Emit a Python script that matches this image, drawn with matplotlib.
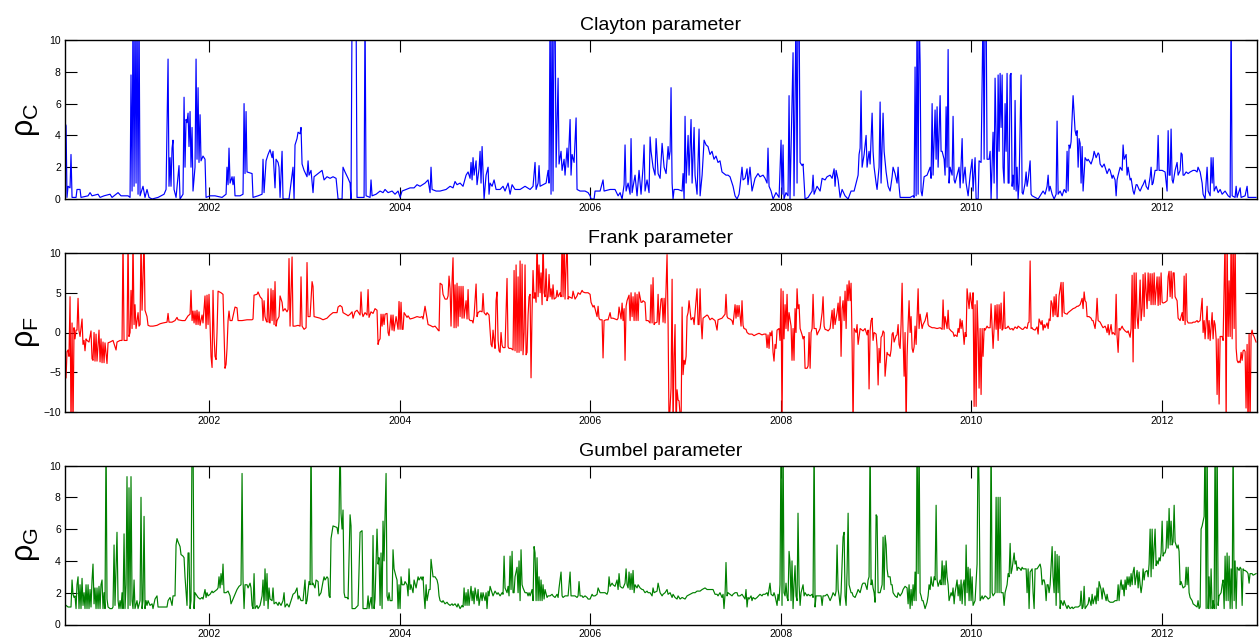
import matplotlib
matplotlib.use("Agg")
import matplotlib.pyplot as plt

plt.rcParams['font.family'] = ['Liberation Sans', 'DejaVu Sans']
plt.rcParams['mathtext.fontset'] = 'custom'
plt.rcParams['mathtext.rm'] = 'Liberation Sans'
plt.rcParams['mathtext.it'] = 'Liberation Sans:italic'
plt.rcParams['mathtext.bf'] = 'Liberation Sans:bold'

# (decimal year, parameter value); values above/below the axis limits are clipped by the axes
clayton = [
(2000.485,4.8),(2000.496,4.6),(2000.506,0.1),(2000.517,0.8),(2000.538,0.7),(2000.548,2.8),(2000.559,0.1),(2000.601,0.1),(2000.611,0.6),(2000.643,0.6),(2000.653,0.1),(2000.727,0.2),(2000.748,0.4),(2000.769,0.2),(2000.832,0.3),(2000.853,0.1),(2000.895,0.2),(2000.958,0.3),(2000.979,0.1),(2001.042,0.4),(2001.073,0.2),(2001.147,0.2),(2001.168,0.1),(2001.178,7.8),(2001.189,0.5),(2001.199,12),(2001.210,0.8),(2001.220,12),(2001.231,1.0),(2001.241,12),(2001.252,0.3),(2001.262,12),(2001.273,0.2),(2001.304,0.8),(2001.325,0.1),(2001.346,0.6),(2001.367,0.1),(2001.399,0.0),(2001.462,0.1),(2001.525,0.3),(2001.546,0.6),(2001.567,8.8),(2001.577,0.8),(2001.588,2.6),(2001.598,0.8),(2001.609,3.2),(2001.619,3.7),(2001.630,0.6),(2001.651,0.1),(2001.682,2.1),(2001.693,0.0),(2001.724,0.3),(2001.735,6.4),(2001.745,2.0),(2001.756,5.0),(2001.766,4.8),(2001.777,5.4),(2001.787,3.3),(2001.798,5.5),(2001.808,2.0),(2001.819,4.5),(2001.829,0.5),(2001.850,2.0),(2001.861,8.8),(2001.871,2.5),(2001.882,7.0),(2001.892,2.3),(2001.903,5.3),(2001.913,2.4),(2001.934,2.7),(2001.955,2.5),(2001.966,0.1),(2002.008,0.2),(2002.060,0.2),(2002.134,0.1),(2002.176,0.3),(2002.186,2.0),(2002.197,0.9),(2002.207,3.2),(2002.218,1.0),(2002.239,1.4),(2002.249,0.9),(2002.260,1.4),(2002.270,0.2),(2002.323,0.2),(2002.354,0.3),(2002.365,6.0),(2002.375,1.6),(2002.386,5.5),(2002.396,1.7),(2002.449,1.6),(2002.459,0.1),(2002.512,0.2),(2002.554,0.3),(2002.564,2.5),(2002.575,0.4),(2002.596,2.4),(2002.617,2.8),(2002.638,3.1),(2002.659,2.6),(2002.669,3.0),(2002.690,0.7),(2002.701,2.5),(2002.722,2.3),(2002.732,2.0),(2002.743,0.1),(2002.764,3.0),(2002.774,0.0),(2002.837,0.0),(2002.879,2.0),(2002.890,0.0),(2002.900,3.4),(2002.921,3.8),(2002.932,4.2),(2002.953,4.1),(2002.963,4.5),(2002.974,2.2),(2002.995,1.8),(2003.026,1.4),(2003.037,2.4),(2003.047,1.5),(2003.068,1.8),(2003.089,0.4),(2003.100,1.4),(2003.142,1.6),(2003.184,1.8),(2003.205,1.2),(2003.236,1.4),(2003.268,1.3),(2003.299,1.4),(2003.331,1.3),(2003.352,0.0),(2003.394,0.0),(2003.404,2.0),(2003.425,1.7),(2003.457,1.3),(2003.478,1.0),(2003.488,0.0),(2003.499,12),(2003.541,12),(2003.551,0.1),(2003.625,0.1),(2003.635,12),(2003.646,0.2),(2003.688,0.1),(2003.698,1.2),(2003.709,0.2),(2003.751,0.3),(2003.793,0.5),(2003.824,0.4),(2003.845,0.6),(2003.877,0.4),(2003.919,0.5),(2003.950,0.3),(2003.982,0.5),(2004.003,0.1),(2004.024,0.5),(2004.066,0.6),(2004.108,0.7),(2004.150,0.7),(2004.181,0.9),(2004.213,0.8),(2004.265,1.0),(2004.297,1.2),(2004.318,0.4),(2004.328,2.0),(2004.339,0.6),(2004.381,0.5),(2004.423,0.5),(2004.486,0.6),(2004.528,0.8),(2004.559,0.7),(2004.580,1.1),(2004.601,0.9),(2004.633,1.0),(2004.664,0.8),(2004.696,1.5),(2004.717,1.7),(2004.738,1.3),(2004.748,2.3),(2004.759,1.2),(2004.769,2.6),(2004.780,1.5),(2004.801,2.4),(2004.811,0.9),(2004.832,1.9),(2004.843,3.0),(2004.853,1.0),(2004.864,3.3),(2004.874,1.8),(2004.885,0.0),(2004.906,1.5),(2004.927,2.0),(2004.937,0.3),(2004.948,1.0),(2004.969,0.8),(2004.990,1.2),(2005.011,0.6),(2005.053,0.6),(2005.084,0.8),(2005.105,0.5),(2005.137,1.0),(2005.158,0.3),(2005.179,0.9),(2005.210,0.6),(2005.263,0.6),(2005.315,0.8),(2005.368,0.6),(2005.399,0.8),(2005.420,2.3),(2005.431,0.6),(2005.452,1.0),(2005.462,2.1),(2005.473,0.8),(2005.504,0.9),(2005.536,1.0),(2005.557,1.8),(2005.567,1.0),(2005.578,12),(2005.588,0.3),(2005.599,12),(2005.609,0.5),(2005.620,12),(2005.630,12),(2005.641,2.0),(2005.662,7.6),(2005.672,2.2),(2005.693,3.0),(2005.704,1.8),(2005.725,2.5),(2005.735,1.5),(2005.756,3.2),(2005.767,2.0),(2005.788,5.0),(2005.798,1.5),(2005.809,2.8),(2005.830,2.3),(2005.851,5.1),(2005.861,0.6),(2005.893,0.5),(2005.945,0.5),(2005.977,0.4),(2005.998,0.2),(2006.008,0.0),(2006.040,0.0),(2006.050,0.5),(2006.103,0.5),(2006.134,1.2),(2006.145,0.5),(2006.208,0.6),(2006.260,0.6),(2006.292,0.2),(2006.313,0.4),(2006.334,0.0),(2006.355,0.9),(2006.365,3.4),(2006.376,0.5),(2006.397,1.0),(2006.418,0.3),(2006.428,3.8),(2006.439,0.4),(2006.470,1.5),(2006.491,0.2),(2006.512,1.8),(2006.533,0.3),(2006.554,2.0),(2006.565,3.4),(2006.575,0.5),(2006.596,1.2),(2006.617,0.4),(2006.628,3.9),(2006.638,3.0),(2006.659,2.0),(2006.680,1.5),(2006.691,3.8),(2006.712,1.6),(2006.733,1.3),(2006.754,3.5),(2006.775,2.0),(2006.796,1.6),(2006.817,3.3),(2006.827,2.5),(2006.838,3.0),(2006.848,7.0),(2006.859,1.0),(2006.869,0.0),(2006.880,0.6),(2006.922,0.6),(2006.964,0.5),(2006.974,1.6),(2006.985,0.0),(2006.995,5.2),(2007.006,1.0),(2007.027,4.0),(2007.037,1.5),(2007.058,5.0),(2007.069,1.0),(2007.090,4.5),(2007.100,1.5),(2007.121,0.3),(2007.142,4.4),(2007.153,0.2),(2007.174,1.5),(2007.195,3.7),(2007.216,3.4),(2007.236,3.3),(2007.257,2.8),(2007.278,3.0),(2007.299,2.5),(2007.320,2.7),(2007.341,2.3),(2007.362,2.4),(2007.383,1.7),(2007.404,1.6),(2007.425,1.5),(2007.446,1.5),(2007.467,1.4),(2007.499,0.8),(2007.520,0.2),(2007.541,0.0),(2007.562,0.3),(2007.572,0.8),(2007.593,2.0),(2007.604,1.2),(2007.625,1.3),(2007.646,1.9),(2007.656,0.9),(2007.677,2.0),(2007.698,0.5),(2007.730,1.3),(2007.761,1.6),(2007.782,1.4),(2007.814,1.5),(2007.835,1.3),(2007.856,1.0),(2007.866,3.2),(2007.877,0.8),(2007.898,0.5),(2007.919,0.0),(2007.950,0.4),(2007.982,0.1),(2008.003,3.7),(2008.013,0.3),(2008.024,3.4),(2008.034,0.0),(2008.055,0.4),(2008.076,0.2),(2008.087,6.5),(2008.097,0.0),(2008.129,9.2),(2008.139,0.2),(2008.160,12),(2008.171,1.0),(2008.181,12),(2008.192,12),(2008.203,2.3),(2008.224,2.1),(2008.234,2.2),(2008.255,0.0),(2008.287,0.1),(2008.308,0.3),(2008.329,0.5),(2008.339,1.5),(2008.350,0.3),(2008.381,0.8),(2008.413,0.5),(2008.434,1.3),(2008.465,1.2),(2008.486,1.4),(2008.518,1.5),(2008.539,1.3),(2008.560,1.9),(2008.570,0.8),(2008.581,1.8),(2008.602,1.2),(2008.623,0.1),(2008.644,0.6),(2008.675,0.2),(2008.707,0.0),(2008.738,0.5),(2008.770,0.5),(2008.791,1.0),(2008.812,1.5),(2008.822,2.8),(2008.833,3.2),(2008.843,6.8),(2008.854,2.0),(2008.875,2.8),(2008.896,4.0),(2008.906,2.0),(2008.927,3.0),(2008.938,2.2),(2008.959,5.4),(2008.969,3.0),(2008.980,2.0),(2009.001,1.0),(2009.011,0.6),(2009.032,2.0),(2009.043,6.1),(2009.053,1.0),(2009.074,5.4),(2009.085,3.0),(2009.106,1.7),(2009.127,0.8),(2009.148,0.5),(2009.169,1.4),(2009.179,2.0),(2009.200,1.6),(2009.221,1.0),(2009.232,2.0),(2009.242,0.8),(2009.253,0.1),(2009.305,0.1),(2009.358,0.1),(2009.389,0.2),(2009.400,0.1),(2009.410,8.3),(2009.421,0.2),(2009.431,12),(2009.442,0.3),(2009.452,12),(2009.463,8.5),(2009.473,0.5),(2009.484,0.2),(2009.505,1.4),(2009.536,1.5),(2009.568,2.0),(2009.578,1.3),(2009.589,6.0),(2009.599,1.5),(2009.620,5.6),(2009.631,2.5),(2009.641,5.8),(2009.652,2.0),(2009.673,6.5),(2009.683,3.0),(2009.694,3.0),(2009.715,2.5),(2009.725,1.5),(2009.736,5.8),(2009.746,2.0),(2009.757,9.4),(2009.767,1.0),(2009.778,2.0),(2009.799,1.5),(2009.809,5.2),(2009.820,1.2),(2009.830,1.0),(2009.851,1.5),(2009.872,2.0),(2009.883,0.7),(2009.904,3.8),(2009.914,1.0),(2009.935,2.0),(2009.946,1.0),(2009.967,0.2),(2009.988,1.5),(2010.009,2.5),(2010.019,0.5),(2010.040,2.6),(2010.051,0.0),(2010.072,0.0),(2010.082,2.4),(2010.103,2.3),(2010.124,12),(2010.135,2.5),(2010.145,12),(2010.156,12),(2010.166,2.5),(2010.187,2.5),(2010.198,3.0),(2010.208,0.0),(2010.229,4.2),(2010.240,1.0),(2010.250,7.6),(2010.261,4.0),(2010.271,0.0),(2010.282,7.8),(2010.292,3.0),(2010.303,7.9),(2010.313,4.5),(2010.324,7.8),(2010.334,2.0),(2010.345,1.0),(2010.355,6.0),(2010.366,3.0),(2010.376,7.9),(2010.387,1.0),(2010.397,1.0),(2010.408,7.8),(2010.418,7.9),(2010.429,0.8),(2010.439,1.5),(2010.450,0.6),(2010.460,6.2),(2010.471,0.5),(2010.481,2.0),(2010.492,0.0),(2010.502,1.0),(2010.523,7.8),(2010.534,0.4),(2010.544,0.3),(2010.565,1.0),(2010.576,1.7),(2010.586,0.8),(2010.597,1.2),(2010.618,2.4),(2010.628,0.3),(2010.639,0.2),(2010.670,0.1),(2010.702,0.0),(2010.723,0.2),(2010.754,0.5),(2010.775,0.3),(2010.796,0.8),(2010.807,1.5),(2010.817,0.5),(2010.828,0.8),(2010.849,0.3),(2010.870,0.0),(2010.891,0.3),(2010.901,4.9),(2010.912,0.3),(2010.933,0.5),(2010.954,0.2),(2010.975,0.6),(2010.996,0.4),(2011.006,3.0),(2011.017,0.5),(2011.027,3.4),(2011.038,3.2),(2011.048,3.6),(2011.069,6.5),(2011.090,4.3),(2011.101,4.0),(2011.111,4.3),(2011.122,2.0),(2011.132,3.8),(2011.143,3.5),(2011.153,1.0),(2011.164,3.3),(2011.174,0.5),(2011.195,2.6),(2011.216,2.4),(2011.227,2.5),(2011.248,2.3),(2011.258,2.2),(2011.279,2.6),(2011.290,3.0),(2011.311,2.6),(2011.332,2.9),(2011.342,2.8),(2011.353,2.2),(2011.374,2.0),(2011.395,2.2),(2011.405,2.0),(2011.426,1.6),(2011.447,1.9),(2011.458,1.8),(2011.479,1.3),(2011.489,1.5),(2011.510,1.2),(2011.521,0.2),(2011.531,1.2),(2011.542,1.5),(2011.563,2.0),(2011.584,1.8),(2011.594,3.4),(2011.605,2.5),(2011.626,2.8),(2011.636,1.5),(2011.647,2.0),(2011.668,1.2),(2011.678,1.3),(2011.699,0.5),(2011.710,0.3),(2011.731,0.9),(2011.741,0.9),(2011.762,0.6),(2011.773,0.5),(2011.794,0.8),(2011.804,0.9),(2011.825,1.2),(2011.836,0.8),(2011.857,0.6),(2011.878,1.4),(2011.888,2.0),(2011.899,0.9),(2011.909,1.0),(2011.930,1.8),(2011.951,1.8),(2011.962,4.0),(2011.972,1.8),(2012.004,1.8),(2012.035,1.7),(2012.056,0.5),(2012.067,4.3),(2012.077,1.5),(2012.088,1.5),(2012.098,4.4),(2012.109,1.2),(2012.119,1.0),(2012.140,1.8),(2012.161,2.3),(2012.172,1.5),(2012.193,1.8),(2012.203,2.9),(2012.214,2.8),(2012.224,1.5),(2012.235,1.5),(2012.256,1.7),(2012.277,1.6),(2012.298,1.7),(2012.329,1.8),(2012.350,1.8),(2012.371,1.7),(2012.381,2.0),(2012.403,1.7),(2012.424,1.0),(2012.434,0.3),(2012.455,0.0),(2012.466,1.0),(2012.476,2.0),(2012.487,0.5),(2012.508,0.2),(2012.518,2.6),(2012.529,1.0),(2012.539,2.6),(2012.550,0.5),(2012.571,0.8),(2012.592,0.4),(2012.613,0.6),(2012.634,0.3),(2012.665,0.5),(2012.697,0.2),(2012.718,0.1),(2012.728,12),(2012.739,0.2),(2012.770,0.1),(2012.781,0.8),(2012.791,0.1),(2012.823,0.7),(2012.833,0.1),(2012.875,0.2),(2012.896,0.8),(2012.906,0.1),(2012.948,0.1),(2012.990,0.1),
]

frank = [
(2000.496,-5.7),(2000.506,-2.4),(2000.517,-2.2),(2000.527,-3.0),(2000.538,4.5),(2000.548,-12),(2000.559,1.2),(2000.569,-12),(2000.580,0.6),(2000.590,-0.8),(2000.601,0.3),(2000.611,0.3),(2000.622,4.3),(2000.632,0.2),(2000.643,-0.5),(2000.664,1.7),(2000.674,-1.5),(2000.685,-1.0),(2000.695,-2.3),(2000.706,-0.8),(2000.716,-1.0),(2000.737,-1.2),(2000.758,0.2),(2000.769,-3.3),(2000.779,-3.5),(2000.790,0.0),(2000.800,-3.6),(2000.811,-0.2),(2000.821,-3.6),(2000.842,0.3),(2000.853,-3.7),(2000.863,-0.8),(2000.874,-3.8),(2000.884,-1.2),(2000.895,-3.8),(2000.905,-1.3),(2000.926,-3.9),(2000.937,-1.3),(2000.958,-1.2),(2000.989,-1.0),(2001.021,-2.2),(2001.031,-1.2),(2001.063,-1.0),(2001.084,-1.0),(2001.094,12),(2001.105,-1.0),(2001.136,-1.0),(2001.147,12),(2001.157,-0.5),(2001.168,0.0),(2001.178,5.3),(2001.189,0.5),(2001.199,12),(2001.210,1.0),(2001.220,3.5),(2001.231,0.5),(2001.241,1.5),(2001.252,2.5),(2001.262,0.8),(2001.273,1.0),(2001.283,12),(2001.294,2.8),(2001.304,6.9),(2001.315,12),(2001.325,2.8),(2001.346,2.0),(2001.357,0.9),(2001.378,0.8),(2001.409,0.8),(2001.451,0.9),(2001.483,1.1),(2001.514,1.2),(2001.556,1.3),(2001.567,2.4),(2001.577,1.3),(2001.609,1.3),(2001.640,1.5),(2001.661,1.9),(2001.672,1.6),(2001.714,1.5),(2001.745,1.5),(2001.777,2.1),(2001.798,2.3),(2001.808,5.3),(2001.819,1.5),(2001.829,2.7),(2001.840,1.2),(2001.850,2.7),(2001.861,1.0),(2001.871,2.8),(2001.882,1.0),(2001.892,2.6),(2001.903,0.9),(2001.924,2.2),(2001.934,1.2),(2001.955,4.6),(2001.966,0.5),(2001.976,4.7),(2001.987,1.0),(2001.997,4.8),(2002.008,1.0),(2002.018,-3.0),(2002.029,-4.4),(2002.039,5.3),(2002.050,-0.5),(2002.060,-3.0),(2002.071,-3.4),(2002.081,0.0),(2002.092,5.2),(2002.123,5.0),(2002.144,4.8),(2002.155,-0.3),(2002.165,-4.5),(2002.176,-4.0),(2002.186,-2.0),(2002.197,1.5),(2002.207,2.7),(2002.218,1.5),(2002.239,1.5),(2002.270,3.2),(2002.291,3.1),(2002.302,1.5),(2002.344,1.5),(2002.396,1.6),(2002.449,1.6),(2002.459,1.7),(2002.470,4.7),(2002.501,4.8),(2002.512,5.1),(2002.533,4.5),(2002.554,4.2),(2002.564,1.5),(2002.575,4.0),(2002.585,2.0),(2002.596,1.5),(2002.606,1.3),(2002.617,5.5),(2002.627,1.3),(2002.638,1.2),(2002.648,5.5),(2002.659,1.5),(2002.669,5.3),(2002.680,1.0),(2002.690,6.4),(2002.701,0.8),(2002.711,1.5),(2002.732,2.0),(2002.743,4.6),(2002.764,3.8),(2002.774,2.7),(2002.795,3.0),(2002.816,2.6),(2002.827,2.9),(2002.837,9.3),(2002.848,0.8),(2002.869,9.5),(2002.879,0.8),(2002.900,0.8),(2002.932,0.9),(2002.953,0.8),(2002.963,7.0),(2002.974,0.8),(2002.984,0.6),(2002.995,0.4),(2003.016,0.6),(2003.026,8.8),(2003.037,2.0),(2003.058,2.0),(2003.079,6.4),(2003.089,5.8),(2003.100,2.0),(2003.131,1.9),(2003.163,1.8),(2003.194,1.6),(2003.236,1.8),(2003.268,2.2),(2003.299,2.5),(2003.341,2.5),(2003.352,3.2),(2003.373,3.4),(2003.394,3.2),(2003.404,2.5),(2003.446,2.2),(2003.457,2.1),(2003.478,2.3),(2003.499,2.6),(2003.509,1.8),(2003.530,2.6),(2003.551,2.8),(2003.583,2.2),(2003.593,5.1),(2003.604,2.5),(2003.614,2.0),(2003.635,2.5),(2003.656,2.2),(2003.667,5.4),(2003.677,1.9),(2003.698,2.6),(2003.719,2.4),(2003.740,3.0),(2003.761,2.8),(2003.772,-1.5),(2003.782,-1.0),(2003.793,-0.8),(2003.803,2.3),(2003.814,0.8),(2003.824,2.3),(2003.835,1.0),(2003.845,2.3),(2003.866,2.4),(2003.877,0.0),(2003.887,-0.4),(2003.908,2.2),(2003.919,0.3),(2003.929,2.2),(2003.940,0.2),(2003.961,2.0),(2003.982,0.4),(2003.992,3.9),(2004.003,0.4),(2004.013,3.8),(2004.024,0.4),(2004.034,0.4),(2004.045,2.5),(2004.076,1.9),(2004.087,2.1),(2004.108,1.7),(2004.139,1.8),(2004.181,2.0),(2004.213,1.9),(2004.234,2.0),(2004.244,1.7),(2004.265,3.3),(2004.286,1.8),(2004.297,1.0),(2004.318,0.9),(2004.349,0.7),(2004.370,0.8),(2004.391,0.5),(2004.402,0.3),(2004.412,0.2),(2004.423,6.2),(2004.444,6.0),(2004.454,4.8),(2004.475,4.2),(2004.496,4.2),(2004.507,4.6),(2004.517,7.1),(2004.528,5.5),(2004.538,0.8),(2004.549,6.5),(2004.559,9.4),(2004.570,0.6),(2004.580,6.0),(2004.591,0.6),(2004.601,6.2),(2004.612,0.8),(2004.622,5.8),(2004.633,2.0),(2004.643,5.8),(2004.654,1.8),(2004.664,5.8),(2004.675,1.8),(2004.696,4.0),(2004.706,1.7),(2004.717,5.4),(2004.727,1.7),(2004.738,1.5),(2004.759,1.5),(2004.769,1.2),(2004.780,2.1),(2004.801,6.1),(2004.811,2.0),(2004.822,2.5),(2004.843,2.7),(2004.864,2.6),(2004.874,4.9),(2004.885,2.5),(2004.906,2.2),(2004.916,2.5),(2004.937,2.2),(2004.958,-1.5),(2004.969,-1.8),(2004.979,0.3),(2004.990,-1.0),(2005.000,-2.0),(2005.011,4.0),(2005.021,5.1),(2005.032,-1.0),(2005.042,-2.3),(2005.053,-2.5),(2005.063,0.0),(2005.074,-1.6),(2005.084,-1.9),(2005.105,-1.9),(2005.126,6.8),(2005.137,-1.8),(2005.147,-2.0),(2005.168,-2.0),(2005.189,-2.2),(2005.200,7.8),(2005.210,-2.3),(2005.221,8.5),(2005.231,-2.5),(2005.242,7.0),(2005.252,-2.5),(2005.263,9.0),(2005.273,-2.3),(2005.284,8.6),(2005.294,-2.8),(2005.305,0.0),(2005.315,8.5),(2005.326,-2.8),(2005.336,-2.5),(2005.347,2.2),(2005.357,4.5),(2005.368,4.8),(2005.378,-5.7),(2005.389,2.8),(2005.399,7.8),(2005.410,4.3),(2005.420,5.0),(2005.431,3.8),(2005.441,12),(2005.452,4.5),(2005.462,8.5),(2005.473,5.0),(2005.483,7.5),(2005.494,3.5),(2005.504,12),(2005.515,5.0),(2005.525,4.5),(2005.536,8.0),(2005.546,4.0),(2005.557,4.5),(2005.567,7.3),(2005.578,4.5),(2005.588,5.5),(2005.599,4.2),(2005.609,6.0),(2005.620,4.2),(2005.641,4.4),(2005.651,5.3),(2005.662,4.5),(2005.683,5.0),(2005.693,4.5),(2005.704,12),(2005.714,4.5),(2005.725,12),(2005.735,4.2),(2005.756,12),(2005.767,4.2),(2005.777,4.5),(2005.809,4.3),(2005.819,5.2),(2005.840,4.2),(2005.861,4.6),(2005.872,5.0),(2005.893,4.8),(2005.914,5.3),(2005.924,5.1),(2005.945,5.0),(2005.977,5.0),(2005.998,4.8),(2006.008,3.8),(2006.029,3.2),(2006.040,3.4),(2006.050,3.0),(2006.071,2.0),(2006.082,3.3),(2006.092,1.8),(2006.103,1.6),(2006.124,1.6),(2006.134,-3.2),(2006.145,1.5),(2006.166,1.6),(2006.187,1.6),(2006.208,2.5),(2006.218,1.8),(2006.239,1.8),(2006.281,1.6),(2006.292,1.8),(2006.302,3.2),(2006.323,1.7),(2006.334,3.7),(2006.344,1.5),(2006.355,3.0),(2006.365,-3.5),(2006.376,3.3),(2006.386,4.0),(2006.407,4.7),(2006.418,1.5),(2006.428,5.0),(2006.439,2.0),(2006.449,4.5),(2006.460,1.5),(2006.470,5.0),(2006.481,1.5),(2006.491,4.8),(2006.502,1.5),(2006.512,5.1),(2006.533,3.8),(2006.544,3.8),(2006.554,4.0),(2006.575,3.8),(2006.586,1.5),(2006.607,1.5),(2006.628,1.2),(2006.638,6.0),(2006.649,1.2),(2006.659,6.9),(2006.670,1.0),(2006.680,1.2),(2006.701,1.3),(2006.712,4.8),(2006.722,1.0),(2006.743,4.2),(2006.754,4.3),(2006.764,1.3),(2006.775,4.3),(2006.785,1.2),(2006.806,9.8),(2006.817,1.0),(2006.827,-12),(2006.848,-7.0),(2006.859,6.7),(2006.869,-12),(2006.880,-3.0),(2006.890,1.0),(2006.901,-12),(2006.911,-7.2),(2006.922,-8.5),(2006.932,-8.6),(2006.953,-12),(2006.964,3.2),(2006.974,-5.3),(2006.985,-3.5),(2006.995,-4.0),(2007.006,-3.0),(2007.016,2.0),(2007.027,2.5),(2007.037,4.0),(2007.058,1.6),(2007.079,1.9),(2007.090,1.0),(2007.111,4.0),(2007.121,5.5),(2007.132,1.0),(2007.142,1.0),(2007.153,5.5),(2007.163,1.5),(2007.174,-0.8),(2007.184,1.8),(2007.205,2.0),(2007.226,2.2),(2007.236,2.1),(2007.257,1.6),(2007.278,1.8),(2007.289,1.7),(2007.310,1.5),(2007.331,0.3),(2007.341,1.6),(2007.362,1.7),(2007.383,1.8),(2007.415,2.3),(2007.425,4.8),(2007.436,2.0),(2007.446,1.8),(2007.467,1.7),(2007.488,1.5),(2007.499,1.0),(2007.520,3.5),(2007.530,1.8),(2007.541,3.4),(2007.551,2.0),(2007.562,3.4),(2007.583,0.8),(2007.593,4.0),(2007.604,0.9),(2007.614,0.5),(2007.635,0.4),(2007.646,0.0),(2007.667,-0.2),(2007.698,-0.2),(2007.719,-0.4),(2007.751,-0.2),(2007.772,-0.1),(2007.803,-0.3),(2007.824,-0.2),(2007.845,-0.2),(2007.856,-1.9),(2007.866,-0.3),(2007.877,-2.0),(2007.887,0.0),(2007.898,-0.4),(2007.908,0.2),(2007.919,-2.5),(2007.929,-3.6),(2007.940,-1.5),(2007.950,-2.0),(2007.961,0.3),(2007.982,0.5),(2007.992,-1.0),(2008.003,5.5),(2008.013,-12),(2008.024,5.2),(2008.034,-0.8),(2008.045,3.5),(2008.055,0.5),(2008.066,4.8),(2008.076,0.2),(2008.087,2.5),(2008.108,0.8),(2008.118,-3.5),(2008.129,0.5),(2008.139,-3.5),(2008.150,3.0),(2008.160,0.0),(2008.171,5.5),(2008.181,3.0),(2008.192,3.5),(2008.203,0.5),(2008.224,-0.3),(2008.234,-0.8),(2008.245,-0.5),(2008.255,-4.5),(2008.276,-4.5),(2008.287,-4.2),(2008.297,0.0),(2008.308,-4.5),(2008.318,0.0),(2008.329,0.5),(2008.339,4.8),(2008.350,0.5),(2008.371,0.5),(2008.381,-0.3),(2008.392,0.0),(2008.413,0.5),(2008.434,2.5),(2008.444,4.5),(2008.455,0.8),(2008.465,0.4),(2008.486,0.3),(2008.497,0.2),(2008.518,0.5),(2008.539,2.8),(2008.549,0.5),(2008.560,3.0),(2008.570,1.0),(2008.591,2.5),(2008.602,3.7),(2008.612,1.5),(2008.623,4.5),(2008.633,-3.0),(2008.644,3.0),(2008.654,4.0),(2008.665,1.5),(2008.675,5.2),(2008.686,0.5),(2008.696,6.0),(2008.707,4.0),(2008.717,6.5),(2008.728,4.0),(2008.738,6.2),(2008.749,-1.5),(2008.759,-12),(2008.770,0.5),(2008.791,0.0),(2008.801,1.0),(2008.812,-1.5),(2008.822,-0.5),(2008.833,0.5),(2008.854,0.3),(2008.864,0.2),(2008.885,0.5),(2008.906,-0.3),(2008.917,0.3),(2008.927,-7.1),(2008.938,0.2),(2008.948,1.5),(2008.959,1.8),(2008.969,-1.0),(2008.980,0.0),(2009.001,-0.2),(2009.011,-1.8),(2009.022,-6.6),(2009.032,-2.0),(2009.043,-3.8),(2009.053,-0.6),(2009.064,-0.4),(2009.074,0.2),(2009.085,0.0),(2009.095,-5.5),(2009.116,-2.5),(2009.127,-2.8),(2009.137,-2.8),(2009.148,-3.0),(2009.158,-2.2),(2009.169,-0.2),(2009.179,0.0),(2009.190,-1.2),(2009.211,-0.4),(2009.221,-0.3),(2009.232,1.0),(2009.242,-1.5),(2009.253,-2.0),(2009.263,1.0),(2009.274,6.2),(2009.284,-0.5),(2009.295,-5.5),(2009.305,0.0),(2009.316,-12),(2009.326,-3.0),(2009.337,1.0),(2009.347,4.0),(2009.358,0.0),(2009.368,2.0),(2009.379,-2.0),(2009.389,-2.5),(2009.400,-1.8),(2009.410,0.8),(2009.421,-1.5),(2009.431,2.0),(2009.442,5.5),(2009.452,0.5),(2009.463,2.3),(2009.484,0.5),(2009.494,1.0),(2009.515,1.5),(2009.536,2.5),(2009.547,1.0),(2009.557,0.8),(2009.589,0.6),(2009.610,0.6),(2009.641,0.5),(2009.673,0.6),(2009.694,0.4),(2009.704,4.1),(2009.715,0.4),(2009.725,2.0),(2009.746,0.5),(2009.757,2.8),(2009.767,0.5),(2009.788,0.2),(2009.809,0.0),(2009.820,-0.5),(2009.830,-0.3),(2009.851,-0.5),(2009.862,0.5),(2009.872,0.0),(2009.883,1.7),(2009.893,0.5),(2009.904,1.5),(2009.914,0.3),(2009.925,-1.5),(2009.935,0.0),(2009.946,-0.5),(2009.956,5.5),(2009.977,3.0),(2009.988,5.0),(2010.009,3.0),(2010.019,5.0),(2010.030,-9.3),(2010.040,3.5),(2010.051,-9.3),(2010.061,4.0),(2010.072,0.0),(2010.082,-7.0),(2010.093,0.5),(2010.103,-7.8),(2010.114,0.5),(2010.124,-3.0),(2010.135,0.5),(2010.145,0.3),(2010.166,0.8),(2010.177,0.6),(2010.198,0.6),(2010.208,3.6),(2010.219,0.5),(2010.229,-2.0),(2010.240,0.6),(2010.250,3.4),(2010.261,0.4),(2010.271,3.5),(2010.282,-1.0),(2010.292,3.5),(2010.303,0.5),(2010.313,3.7),(2010.324,0.3),(2010.334,0.5),(2010.345,5.1),(2010.355,0.5),(2010.376,0.6),(2010.387,0.8),(2010.408,0.4),(2010.429,0.5),(2010.439,0.3),(2010.460,0.7),(2010.481,0.5),(2010.492,0.8),(2010.513,0.6),(2010.534,0.4),(2010.544,0.4),(2010.565,0.7),(2010.586,0.5),(2010.597,1.2),(2010.607,1.3),(2010.618,9.0),(2010.628,0.5),(2010.639,0.6),(2010.649,0.4),(2010.670,0.3),(2010.691,0.7),(2010.702,-0.2),(2010.712,1.7),(2010.733,1.0),(2010.744,1.5),(2010.754,0.3),(2010.765,1.0),(2010.775,0.6),(2010.796,1.2),(2010.807,0.5),(2010.817,1.7),(2010.828,1.5),(2010.838,4.0),(2010.849,3.6),(2010.859,2.0),(2010.870,4.5),(2010.880,2.2),(2010.891,4.8),(2010.901,2.0),(2010.912,2.0),(2010.922,4.6),(2010.943,6.3),(2010.954,2.0),(2010.964,6.3),(2010.975,2.5),(2010.985,2.4),(2011.006,2.3),(2011.017,2.5),(2011.038,2.7),(2011.059,2.9),(2011.069,3.0),(2011.090,3.1),(2011.111,3.3),(2011.122,3.3),(2011.143,3.5),(2011.164,4.3),(2011.174,3.0),(2011.185,5.1),(2011.195,4.0),(2011.206,3.8),(2011.216,2.0),(2011.237,2.0),(2011.258,1.8),(2011.269,1.5),(2011.279,1.5),(2011.300,0.5),(2011.311,1.8),(2011.321,4.3),(2011.332,1.5),(2011.353,1.3),(2011.374,0.8),(2011.384,0.6),(2011.405,0.8),(2011.416,0.5),(2011.426,0.0),(2011.437,1.0),(2011.447,-0.3),(2011.468,1.0),(2011.479,-0.2),(2011.489,0.0),(2011.510,-0.3),(2011.521,4.8),(2011.531,-0.5),(2011.542,-2.5),(2011.552,0.5),(2011.563,0.3),(2011.584,0.8),(2011.594,0.5),(2011.615,0.2),(2011.636,0.0),(2011.647,0.2),(2011.668,-0.6),(2011.678,0.5),(2011.689,7.2),(2011.699,-3.7),(2011.710,7.5),(2011.720,0.5),(2011.731,7.5),(2011.741,2.0),(2011.752,0.5),(2011.762,3.0),(2011.773,6.6),(2011.783,1.5),(2011.794,3.0),(2011.804,7.3),(2011.815,2.0),(2011.825,7.5),(2011.846,3.0),(2011.857,7.5),(2011.867,4.0),(2011.878,7.4),(2011.888,3.5),(2011.899,7.4),(2011.909,3.5),(2011.920,7.5),(2011.930,3.5),(2011.951,7.0),(2011.962,3.4),(2011.972,7.0),(2011.983,3.5),(2011.993,7.5),(2012.004,3.8),(2012.014,3.7),(2012.035,3.8),(2012.056,4.0),(2012.067,7.0),(2012.077,7.7),(2012.088,4.5),(2012.098,7.7),(2012.109,4.3),(2012.119,7.5),(2012.130,7.5),(2012.140,4.5),(2012.161,4.0),(2012.172,1.8),(2012.193,1.5),(2012.214,2.5),(2012.224,1.5),(2012.235,7.1),(2012.245,1.0),(2012.256,7.4),(2012.266,1.5),(2012.277,1.2),(2012.298,1.2),(2012.319,1.2),(2012.329,1.3),(2012.350,1.3),(2012.371,1.5),(2012.381,1.3),(2012.403,1.5),(2012.424,4.3),(2012.434,0.0),(2012.445,1.5),(2012.455,-0.8),(2012.476,3.3),(2012.487,-0.8),(2012.497,1.5),(2012.508,-1.0),(2012.529,2.5),(2012.539,-0.8),(2012.550,1.5),(2012.560,1.0),(2012.571,-0.8),(2012.581,-7.8),(2012.592,-0.8),(2012.602,-9.0),(2012.613,-0.5),(2012.634,-0.5),(2012.644,-1.0),(2012.655,5.8),(2012.665,12),(2012.676,-12),(2012.686,12),(2012.697,-0.5),(2012.707,6.5),(2012.718,-0.5),(2012.728,12),(2012.739,-0.8),(2012.749,12),(2012.760,0.5),(2012.770,12),(2012.781,-2.0),(2012.791,-3.5),(2012.802,-3.8),(2012.812,-3.6),(2012.823,-3.8),(2012.833,-2.5),(2012.844,-3.5),(2012.854,-2.3),(2012.865,-2.2),(2012.875,-2.4),(2012.885,-9.5),(2012.896,-1.5),(2012.906,-12),(2012.917,-0.2),(2012.927,-12),(2012.938,-0.3),(2012.948,0.3),(2012.959,-0.3),(2012.969,-0.5),(2012.990,-1.2),
]

gumbel = [
(2000.496,1.2),(2000.517,1.1),(2000.548,1.1),(2000.559,2.8),(2000.569,1.9),(2000.580,1.7),(2000.590,1.8),(2000.601,1.0),(2000.611,2.5),(2000.622,3.0),(2000.632,1.0),(2000.643,2.5),(2000.653,1.0),(2000.664,2.9),(2000.674,1.2),(2000.685,2.0),(2000.695,1.0),(2000.706,2.5),(2000.716,1.0),(2000.727,2.5),(2000.737,1.0),(2000.748,2.2),(2000.758,1.1),(2000.769,2.8),(2000.779,3.8),(2000.790,1.3),(2000.800,2.3),(2000.811,1.0),(2000.821,2.3),(2000.832,1.0),(2000.842,2.4),(2000.853,1.0),(2000.863,2.5),(2000.874,2.8),(2000.884,1.0),(2000.895,2.0),(2000.905,1.0),(2000.916,12),(2000.926,1.6),(2000.937,1.1),(2000.958,1.0),(2000.979,1.0),(2000.989,1.1),(2001.000,5.0),(2001.010,1.2),(2001.031,5.8),(2001.042,1.5),(2001.052,1.0),(2001.063,1.5),(2001.073,1.0),(2001.084,2.0),(2001.094,1.0),(2001.105,5.7),(2001.115,1.0),(2001.126,2.5),(2001.136,9.3),(2001.147,1.0),(2001.157,8.6),(2001.168,1.2),(2001.178,9.3),(2001.189,1.5),(2001.199,1.0),(2001.210,2.8),(2001.220,1.0),(2001.241,1.5),(2001.252,1.0),(2001.273,1.5),(2001.283,8.0),(2001.294,1.0),(2001.304,1.5),(2001.315,6.8),(2001.325,1.0),(2001.336,1.5),(2001.346,1.2),(2001.357,1.5),(2001.378,1.2),(2001.399,1.3),(2001.409,1.0),(2001.430,1.6),(2001.451,1.8),(2001.462,1.1),(2001.483,1.1),(2001.514,1.1),(2001.556,1.1),(2001.567,1.5),(2001.588,1.7),(2001.609,1.2),(2001.619,1.8),(2001.640,1.8),(2001.651,5.0),(2001.661,5.4),(2001.672,5.2),(2001.693,4.9),(2001.703,4.4),(2001.724,4.3),(2001.735,4.2),(2001.745,3.0),(2001.766,1.2),(2001.777,4.5),(2001.787,4.5),(2001.798,1.0),(2001.808,1.5),(2001.819,12),(2001.829,12),(2001.840,1.0),(2001.850,2.0),(2001.871,1.8),(2001.882,1.7),(2001.903,1.6),(2001.924,1.7),(2001.934,1.6),(2001.955,2.2),(2001.966,1.7),(2001.976,2.0),(2001.987,1.8),(2002.008,1.9),(2002.029,2.1),(2002.039,2.0),(2002.060,2.1),(2002.081,2.2),(2002.092,2.3),(2002.102,3.0),(2002.113,2.3),(2002.123,3.2),(2002.134,2.5),(2002.144,3.8),(2002.155,2.0),(2002.176,2.0),(2002.197,2.1),(2002.218,1.8),(2002.228,1.3),(2002.249,1.6),(2002.270,1.9),(2002.291,2.2),(2002.312,2.4),(2002.333,2.5),(2002.344,9.5),(2002.354,2.8),(2002.365,1.0),(2002.375,2.5),(2002.396,2.5),(2002.407,2.3),(2002.428,2.6),(2002.438,2.3),(2002.449,1.2),(2002.459,1.0),(2002.470,3.2),(2002.480,1.0),(2002.501,1.2),(2002.512,1.0),(2002.533,1.2),(2002.554,1.8),(2002.564,2.8),(2002.575,1.2),(2002.585,3.5),(2002.596,1.5),(2002.606,3.2),(2002.617,1.0),(2002.627,2.3),(2002.638,1.6),(2002.659,1.5),(2002.669,2.3),(2002.680,1.3),(2002.701,1.4),(2002.722,1.2),(2002.732,1.4),(2002.753,1.2),(2002.774,1.5),(2002.785,2.0),(2002.795,1.1),(2002.816,1.3),(2002.837,1.1),(2002.848,1.3),(2002.869,1.7),(2002.879,1.9),(2002.900,2.0),(2002.921,2.3),(2002.932,1.6),(2002.942,1.8),(2002.963,1.5),(2002.984,1.5),(2002.995,2.2),(2003.005,2.8),(2003.016,1.3),(2003.026,1.5),(2003.047,2.7),(2003.058,2.5),(2003.068,12),(2003.079,2.5),(2003.089,2.6),(2003.110,2.3),(2003.121,2.8),(2003.142,2.7),(2003.152,1.8),(2003.173,2.0),(2003.194,2.7),(2003.205,3.0),(2003.215,2.8),(2003.236,3.0),(2003.247,2.9),(2003.257,1.8),(2003.268,1.7),(2003.278,5.4),(2003.299,6.2),(2003.341,6.1),(2003.352,5.7),(2003.362,6.5),(2003.373,12),(2003.383,7.0),(2003.394,6.0),(2003.404,7.2),(2003.415,2.0),(2003.425,1.7),(2003.446,1.7),(2003.457,1.6),(2003.478,6.9),(2003.488,6.2),(2003.499,1.0),(2003.509,1.0),(2003.530,1.0),(2003.562,1.2),(2003.583,5.8),(2003.604,5.9),(2003.614,1.0),(2003.635,1.0),(2003.656,1.0),(2003.667,1.8),(2003.677,1.0),(2003.698,1.7),(2003.709,1.0),(2003.719,5.6),(2003.730,1.0),(2003.740,1.6),(2003.761,6.0),(2003.772,3.8),(2003.782,4.2),(2003.793,1.2),(2003.803,4.5),(2003.814,1.0),(2003.824,6.5),(2003.835,4.0),(2003.845,6.8),(2003.856,9.5),(2003.866,1.8),(2003.877,1.5),(2003.887,2.0),(2003.898,1.5),(2003.919,1.5),(2003.929,4.7),(2003.940,3.5),(2003.961,3.0),(2003.971,2.8),(2003.982,1.0),(2003.992,2.5),(2004.003,1.0),(2004.013,3.0),(2004.024,2.5),(2004.045,2.5),(2004.055,2.7),(2004.076,2.5),(2004.087,1.8),(2004.097,3.5),(2004.108,2.2),(2004.118,2.5),(2004.139,2.0),(2004.150,2.8),(2004.171,2.3),(2004.192,3.0),(2004.202,2.8),(2004.223,3.0),(2004.234,2.8),(2004.244,3.0),(2004.255,1.8),(2004.265,1.0),(2004.276,2.5),(2004.286,1.5),(2004.307,2.2),(2004.318,2.2),(2004.328,4.1),(2004.339,3.5),(2004.349,3.0),(2004.370,3.0),(2004.391,2.8),(2004.402,2.5),(2004.412,1.8),(2004.423,1.5),(2004.444,1.4),(2004.454,1.5),(2004.475,1.3),(2004.496,1.4),(2004.507,1.3),(2004.528,1.2),(2004.549,1.3),(2004.559,1.2),(2004.580,1.3),(2004.601,1.1),(2004.612,1.3),(2004.633,1.0),(2004.654,1.2),(2004.664,1.1),(2004.675,2.3),(2004.685,1.2),(2004.696,2.0),(2004.706,1.2),(2004.717,2.2),(2004.727,1.2),(2004.748,2.4),(2004.759,1.5),(2004.769,2.1),(2004.780,1.3),(2004.790,2.3),(2004.811,1.5),(2004.822,2.2),(2004.832,1.2),(2004.853,2.0),(2004.864,1.5),(2004.874,2.0),(2004.895,1.5),(2004.906,2.0),(2004.916,1.0),(2004.927,2.1),(2004.937,1.8),(2004.948,2.4),(2004.969,2.0),(2004.979,1.8),(2005.000,2.1),(2005.021,1.9),(2005.032,2.0),(2005.053,1.8),(2005.074,2.0),(2005.084,1.9),(2005.095,4.3),(2005.105,2.3),(2005.126,2.0),(2005.137,2.4),(2005.147,1.8),(2005.158,4.3),(2005.168,2.2),(2005.179,4.6),(2005.189,2.0),(2005.200,2.0),(2005.210,3.0),(2005.231,3.6),(2005.242,2.0),(2005.252,4.0),(2005.263,1.5),(2005.273,4.7),(2005.284,2.5),(2005.294,2.3),(2005.315,2.0),(2005.336,2.0),(2005.347,1.8),(2005.357,2.0),(2005.368,1.8),(2005.389,2.2),(2005.399,1.5),(2005.410,4.9),(2005.420,4.5),(2005.431,1.5),(2005.441,4.2),(2005.452,1.5),(2005.462,3.0),(2005.473,1.5),(2005.483,2.8),(2005.494,1.5),(2005.504,2.5),(2005.515,1.6),(2005.525,2.2),(2005.546,1.7),(2005.557,1.8),(2005.578,1.8),(2005.599,1.9),(2005.609,1.8),(2005.630,1.7),(2005.651,1.9),(2005.662,1.7),(2005.672,2.3),(2005.693,3.3),(2005.704,1.8),(2005.714,1.7),(2005.735,1.8),(2005.756,1.8),(2005.767,1.8),(2005.788,3.3),(2005.798,1.8),(2005.819,1.8),(2005.840,1.8),(2005.861,1.7),(2005.872,1.8),(2005.882,2.7),(2005.893,1.8),(2005.914,1.8),(2005.924,1.7),(2005.945,1.8),(2005.966,1.7),(2005.977,1.6),(2005.998,1.6),(2006.019,1.9),(2006.029,1.8),(2006.050,1.8),(2006.071,1.9),(2006.082,2.3),(2006.103,2.0),(2006.124,2.0),(2006.134,2.0),(2006.155,2.0),(2006.176,1.9),(2006.187,2.1),(2006.197,3.0),(2006.208,2.4),(2006.229,2.6),(2006.239,2.5),(2006.260,2.4),(2006.281,2.8),(2006.292,2.2),(2006.302,3.2),(2006.313,2.4),(2006.334,2.3),(2006.344,2.3),(2006.365,2.6),(2006.376,3.5),(2006.386,2.5),(2006.397,2.3),(2006.407,3.3),(2006.418,2.2),(2006.428,3.2),(2006.439,2.2),(2006.449,3.4),(2006.460,2.0),(2006.470,2.5),(2006.491,2.3),(2006.502,2.5),(2006.523,2.3),(2006.544,2.2),(2006.554,2.2),(2006.575,2.0),(2006.596,2.1),(2006.607,2.0),(2006.628,2.0),(2006.649,1.8),(2006.659,2.3),(2006.670,2.0),(2006.701,2.1),(2006.712,2.6),(2006.733,2.0),(2006.754,1.8),(2006.764,1.9),(2006.785,2.0),(2006.806,2.2),(2006.817,1.9),(2006.838,2.0),(2006.859,1.7),(2006.869,1.9),(2006.890,1.7),(2006.911,1.6),(2006.922,1.8),(2006.943,1.6),(2006.964,1.7),(2006.995,1.6),(2007.016,1.8),(2007.048,1.9),(2007.079,2.0),(2007.100,2.0),(2007.121,2.1),(2007.153,2.1),(2007.174,2.2),(2007.205,2.3),(2007.226,2.2),(2007.257,2.2),(2007.289,2.2),(2007.310,1.9),(2007.331,1.9),(2007.341,1.8),(2007.362,2.0),(2007.383,1.7),(2007.394,1.9),(2007.404,1.0),(2007.415,1.9),(2007.425,3.9),(2007.436,1.8),(2007.446,2.0),(2007.467,1.9),(2007.488,1.8),(2007.499,1.9),(2007.520,2.0),(2007.541,2.0),(2007.551,1.8),(2007.572,1.8),(2007.593,1.9),(2007.604,1.8),(2007.625,1.6),(2007.635,2.2),(2007.646,1.1),(2007.656,1.7),(2007.667,1.6),(2007.688,1.8),(2007.698,1.5),(2007.709,1.7),(2007.730,1.6),(2007.751,1.7),(2007.782,1.9),(2007.803,1.8),(2007.814,1.9),(2007.835,1.9),(2007.856,2.0),(2007.866,1.8),(2007.887,2.6),(2007.898,1.9),(2007.919,1.8),(2007.929,2.0),(2007.940,1.8),(2007.950,1.5),(2007.961,1.2),(2007.971,1.9),(2007.982,1.5),(2007.992,2.5),(2008.003,12),(2008.013,1.2),(2008.024,12),(2008.034,2.0),(2008.045,1.8),(2008.055,2.6),(2008.066,1.7),(2008.076,1.5),(2008.087,4.6),(2008.097,3.9),(2008.108,1.5),(2008.118,4.0),(2008.129,1.0),(2008.139,2.5),(2008.150,3.7),(2008.160,1.8),(2008.171,1.5),(2008.181,7.0),(2008.192,2.5),(2008.203,1.2),(2008.213,2.0),(2008.234,2.5),(2008.245,1.8),(2008.255,2.0),(2008.276,1.8),(2008.287,1.9),(2008.308,1.8),(2008.329,1.9),(2008.339,1.7),(2008.350,12),(2008.360,1.1),(2008.371,1.8),(2008.381,1.8),(2008.402,1.8),(2008.423,1.8),(2008.434,1.2),(2008.444,1.8),(2008.465,1.8),(2008.486,1.9),(2008.497,1.8),(2008.518,1.5),(2008.539,1.8),(2008.549,2.0),(2008.570,1.8),(2008.581,2.1),(2008.591,5.0),(2008.602,2.2),(2008.612,1.8),(2008.623,1.2),(2008.633,2.0),(2008.654,5.5),(2008.665,5.8),(2008.675,1.8),(2008.686,1.2),(2008.696,3.3),(2008.707,7.0),(2008.717,2.5),(2008.738,2.0),(2008.749,2.0),(2008.759,1.8),(2008.780,1.7),(2008.801,2.0),(2008.812,2.2),(2008.833,2.0),(2008.854,2.5),(2008.864,2.6),(2008.885,2.6),(2008.906,2.2),(2008.917,2.8),(2008.927,3.0),(2008.938,12),(2008.948,2.5),(2008.959,2.8),(2008.969,2.3),(2008.980,2.0),(2008.990,1.4),(2009.001,6.9),(2009.011,6.8),(2009.022,2.0),(2009.043,2.0),(2009.064,2.5),(2009.074,5.5),(2009.085,2.2),(2009.095,5.6),(2009.106,5.0),(2009.116,3.5),(2009.127,3.0),(2009.148,3.0),(2009.158,2.5),(2009.169,2.5),(2009.179,2.0),(2009.200,1.8),(2009.221,1.7),(2009.232,2.0),(2009.253,1.8),(2009.274,2.0),(2009.284,2.2),(2009.305,2.4),(2009.326,2.3),(2009.337,1.3),(2009.347,2.5),(2009.358,1.0),(2009.368,2.2),(2009.379,1.2),(2009.389,2.5),(2009.400,1.5),(2009.410,3.3),(2009.421,1.5),(2009.431,12),(2009.442,3.2),(2009.452,12),(2009.463,2.0),(2009.473,1.8),(2009.484,1.5),(2009.494,1.5),(2009.515,1.0),(2009.536,1.4),(2009.547,1.8),(2009.557,2.5),(2009.568,2.2),(2009.578,3.0),(2009.589,2.5),(2009.599,2.4),(2009.610,3.0),(2009.620,2.8),(2009.631,7.5),(2009.641,2.8),(2009.652,2.4),(2009.673,2.8),(2009.683,2.5),(2009.694,4.0),(2009.704,2.5),(2009.715,3.7),(2009.725,2.5),(2009.736,4.0),(2009.746,3.0),(2009.757,2.5),(2009.767,1.5),(2009.788,2.0),(2009.799,1.8),(2009.809,2.3),(2009.820,1.3),(2009.830,2.0),(2009.851,2.8),(2009.862,1.8),(2009.872,2.5),(2009.883,1.5),(2009.893,2.8),(2009.904,1.3),(2009.914,2.5),(2009.925,2.8),(2009.935,1.2),(2009.946,5.0),(2009.956,2.0),(2009.967,3.6),(2009.977,1.5),(2009.988,3.5),(2009.998,1.5),(2010.009,3.0),(2010.019,1.2),(2010.040,1.5),(2010.061,3.8),(2010.072,12),(2010.082,8.7),(2010.093,1.5),(2010.114,1.8),(2010.124,1.6),(2010.145,1.8),(2010.166,1.7),(2010.177,1.6),(2010.198,1.7),(2010.208,12),(2010.219,2.0),(2010.229,1.8),(2010.250,2.0),(2010.261,8.0),(2010.271,2.0),(2010.282,8.0),(2010.292,2.0),(2010.303,8.0),(2010.313,2.0),(2010.334,2.0),(2010.345,1.2),(2010.355,2.0),(2010.376,2.5),(2010.387,3.2),(2010.397,3.0),(2010.408,5.1),(2010.418,3.2),(2010.429,3.5),(2010.439,4.0),(2010.450,4.5),(2010.460,3.8),(2010.471,4.0),(2010.481,3.4),(2010.492,3.6),(2010.513,3.5),(2010.523,3.4),(2010.534,3.6),(2010.544,3.5),(2010.565,3.5),(2010.576,3.5),(2010.586,2.0),(2010.597,3.5),(2010.607,1.0),(2010.618,3.3),(2010.639,3.5),(2010.649,2.0),(2010.660,1.0),(2010.670,3.5),(2010.691,3.5),(2010.702,3.6),(2010.723,3.8),(2010.733,3.5),(2010.744,2.5),(2010.754,2.8),(2010.765,2.8),(2010.775,2.5),(2010.786,1.5),(2010.796,2.5),(2010.807,2.5),(2010.817,2.0),(2010.828,2.5),(2010.849,4.9),(2010.859,3.0),(2010.870,2.0),(2010.880,4.6),(2010.891,1.2),(2010.901,4.4),(2010.912,2.0),(2010.922,4.3),(2010.933,1.0),(2010.943,1.5),(2010.964,1.2),(2010.975,1.5),(2010.985,1.3),(2011.006,1.0),(2011.017,1.2),(2011.038,1.0),(2011.059,1.1),(2011.069,1.0),(2011.090,1.1),(2011.111,1.1),(2011.122,1.1),(2011.143,1.2),(2011.153,2.1),(2011.164,1.0),(2011.174,1.1),(2011.185,2.4),(2011.195,1.0),(2011.216,1.2),(2011.227,1.3),(2011.237,1.7),(2011.258,1.2),(2011.269,1.9),(2011.279,1.3),(2011.300,1.8),(2011.311,1.3),(2011.321,2.3),(2011.332,1.5),(2011.342,2.7),(2011.363,2.2),(2011.374,1.6),(2011.384,2.3),(2011.405,1.8),(2011.416,1.5),(2011.426,1.9),(2011.437,1.5),(2011.458,1.4),(2011.479,1.4),(2011.489,1.4),(2011.510,1.5),(2011.531,1.5),(2011.542,2.5),(2011.552,1.5),(2011.563,2.4),(2011.573,2.8),(2011.584,2.2),(2011.594,2.5),(2011.605,1.8),(2011.615,2.8),(2011.626,2.2),(2011.636,3.0),(2011.647,2.5),(2011.657,3.0),(2011.668,2.4),(2011.678,3.2),(2011.689,2.5),(2011.699,3.3),(2011.710,3.6),(2011.720,2.5),(2011.741,3.4),(2011.752,2.3),(2011.762,3.3),(2011.773,2.5),(2011.783,2.0),(2011.794,2.5),(2011.804,3.5),(2011.815,2.8),(2011.825,3.3),(2011.846,3.4),(2011.857,3.0),(2011.867,3.8),(2011.878,6.0),(2011.888,3.0),(2011.899,6.0),(2011.909,3.5),(2011.930,6.0),(2011.941,3.7),(2011.951,4.0),(2011.962,3.8),(2011.972,4.2),(2011.983,4.0),(2011.993,4.5),(2012.004,6.5),(2012.014,4.3),(2012.025,4.5),(2012.035,4.5),(2012.046,4.8),(2012.056,6.5),(2012.067,4.8),(2012.077,7.3),(2012.088,5.0),(2012.098,6.5),(2012.109,5.0),(2012.119,5.2),(2012.130,7.5),(2012.140,5.2),(2012.151,5.0),(2012.161,4.8),(2012.172,5.0),(2012.182,4.6),(2012.193,2.5),(2012.203,2.7),(2012.214,2.5),(2012.224,2.3),(2012.245,2.4),(2012.256,3.6),(2012.266,2.5),(2012.277,3.6),(2012.287,2.0),(2012.298,1.7),(2012.319,1.5),(2012.329,1.3),(2012.350,1.2),(2012.371,1.1),(2012.381,1.5),(2012.392,1.0),(2012.403,1.1),(2012.413,6.0),(2012.424,6.2),(2012.434,6.5),(2012.445,6.8),(2012.455,12),(2012.466,1.0),(2012.476,12),(2012.487,1.0),(2012.497,3.0),(2012.508,1.0),(2012.518,3.5),(2012.529,1.0),(2012.539,1.5),(2012.550,1.0),(2012.560,12),(2012.571,1.0),(2012.581,12),(2012.592,1.2),(2012.602,1.8),(2012.623,2.0),(2012.634,2.5),(2012.644,2.8),(2012.655,1.0),(2012.665,4.3),(2012.676,1.5),(2012.686,4.5),(2012.697,1.5),(2012.707,4.3),(2012.718,1.0),(2012.728,3.5),(2012.739,1.0),(2012.749,12),(2012.760,1.5),(2012.770,4.0),(2012.781,1.0),(2012.791,3.6),(2012.802,3.5),(2012.812,3.4),(2012.823,3.6),(2012.833,3.5),(2012.844,1.2),(2012.854,3.5),(2012.865,3.4),(2012.875,3.4),(2012.896,3.3),(2012.906,3.2),(2012.917,2.6),(2012.927,3.2),(2012.948,3.2),(2012.959,3.1),(2012.990,3.2),
]

titles = ['Clayton parameter', 'Frank parameter', 'Gumbel parameter']
ylabels = [r'$\mathrm{\rho}_{\mathrm{C}}$', r'$\mathrm{\rho}_{\mathrm{F}}$', r'$\mathrm{\rho}_{\mathrm{G}}$']
colors = ['#0000ff', '#ff0000', '#008000']
ylims = [(0, 10), (-10, 10), (0, 10)]
yticks = [[0, 2, 4, 6, 8, 10], [-10, -5, 0, 5, 10], [0, 2, 4, 6, 8, 10]]
year_ticks = [2002, 2004, 2006, 2008, 2010, 2012]
xlim = (2000.485, 2013.0)

fig = plt.figure(figsize=(12.6, 6.43), dpi=100)
positions = [
    [65 / 1260, 1 - 199 / 643, 1192 / 1260, 159 / 643],
    [65 / 1260, 1 - 412 / 643, 1192 / 1260, 159 / 643],
    [65 / 1260, 1 - 624.5 / 643, 1192 / 1260, 159 / 643],
]

for data, title, ylab, col, ylim, yt, pos in zip(
        [clayton, frank, gumbel], titles, ylabels, colors, ylims, yticks, positions):
    ax = fig.add_axes(pos)
    t = [p[0] for p in data]
    v = [p[1] for p in data]
    ax.plot(t, v, color=col, linewidth=0.85)
    ax.set_xlim(*xlim)
    ax.set_ylim(*ylim)
    ax.set_xticks(year_ticks)
    ax.set_xticklabels([str(y) for y in year_ticks])
    ax.set_yticks(yt)
    ax.tick_params(direction='in', length=8.6, width=0.8, top=True, right=True,
                   labelsize=7.5, pad=3, colors='black')
    for s in ax.spines.values():
        s.set_linewidth(1.0)
    ax.set_title(title, fontsize=14, pad=7)
    ax.set_ylabel(ylab, fontsize=22, rotation=90)
    ax.yaxis.set_label_coords(-0.019, 0.5)

fig.savefig('out.png', dpi=100)
